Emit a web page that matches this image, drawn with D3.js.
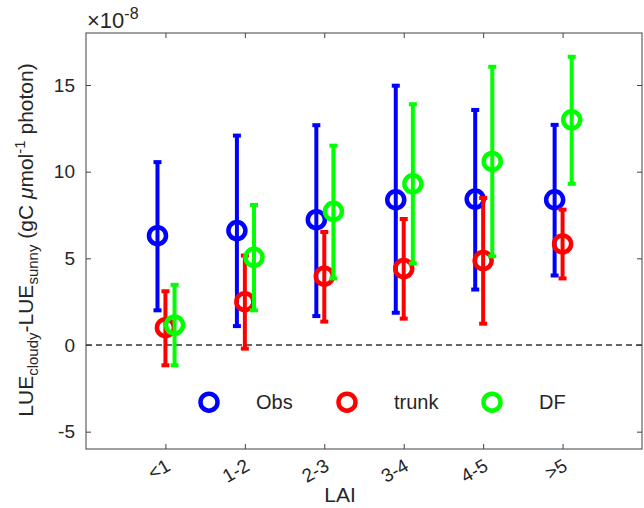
<!DOCTYPE html>
<html>
<head>
<meta charset="utf-8">
<script src="https://cdnjs.cloudflare.com/ajax/libs/d3/7.8.5/d3.min.js"></script>
<style>
body { margin: 0; background: #fff; }
text { font-family: "Liberation Sans", Arial, sans-serif; fill: #262626; }
</style>
</head>
<body>
<div id="chart"></div>
<script>
var categories = ["<1", "1-2", "2-3", "3-4", "4-5", ">5"];
var yTicks = [-5, 0, 5, 10, 15];

// values in units of 1e-8
var obsMean = [6.31, 6.6, 7.23, 8.38, 8.42, 8.38];
var obsLow = [2.0, 1.09, 1.67, 1.86, 3.2, 4.01];
var obsHigh = [10.55, 12.08, 12.68, 14.96, 13.56, 12.7];

var trunkMean = [1.0, 2.5, 3.97, 4.41, 4.87, 5.83];
var trunkLow = [-1.17, -0.21, 1.35, 1.52, 1.23, 3.84];
var trunkHigh = [3.1, 5.16, 6.52, 7.27, 8.48, 7.81];

var dfMean = [1.15, 5.06, 7.71, 9.3, 10.59, 12.99];
var dfLow = [-1.17, 2.0, 3.84, 4.7, 5.12, 9.3];
var dfHigh = [3.47, 8.08, 11.5, 13.89, 16.05, 16.63];

var seriesNames = ["Obs", "trunk", "DF"];
var seriesColors = ["#0000ff", "#ff0000", "#00ff00"];
var seriesOffset = [-0.1, 0, 0.115];

drawChart("chart");

function drawChart(container){
	var W = 644, H = 508;
	var margin = { top: 33, right: 2, bottom: 59, left: 86 },
		width = W - margin.left - margin.right,
		height = H - margin.top - margin.bottom;

	var svg = d3.select("#" + container).append("svg")
		.attr("width", W)
		.attr("height", H);
	var g = svg.append("g").attr("transform", "translate(" + margin.left + "," + margin.top + ")");

	var x = d3.scaleLinear().domain([0, 7]).range([0, width]);
	var y = d3.scaleLinear().domain([-6, 18]).range([height, 0]);
	var xPos = d3.range(1, categories.length + 1);

	// zero line
	g.append("line")
		.attr("x1", 0).attr("x2", width)
		.attr("y1", y(0)).attr("y2", y(0))
		.attr("stroke", "#333").attr("stroke-width", 1.3)
		.attr("stroke-dasharray", "6,4");

	var series = [
		{ mean: obsMean, low: obsLow, high: obsHigh },
		{ mean: trunkMean, low: trunkLow, high: trunkHigh },
		{ mean: dfMean, low: dfLow, high: dfHigh }
	];

	series.forEach(function(s, k){
		var color = seriesColors[k];
		var sg = g.append("g");
		var rows = s.mean.map(function(m, i){ return { x: xPos[i] + seriesOffset[k], m: m, lo: s.low[i], hi: s.high[i] }; });
		sg.selectAll(".bar").data(rows).enter().append("line")
			.attr("x1", function(d){ return x(d.x); })
			.attr("x2", function(d){ return x(d.x); })
			.attr("y1", function(d){ return y(d.lo); })
			.attr("y2", function(d){ return y(d.hi); })
			.attr("stroke", color).attr("stroke-width", 4);
		["lo", "hi"].forEach(function(key){
			sg.selectAll(".cap" + key).data(rows).enter().append("line")
				.attr("x1", function(d){ return x(d.x) - 4; })
				.attr("x2", function(d){ return x(d.x) + 4; })
				.attr("y1", function(d){ return y(d[key]); })
				.attr("y2", function(d){ return y(d[key]); })
				.attr("stroke", color).attr("stroke-width", 4);
		});
		sg.selectAll(".pt").data(rows).enter().append("circle")
			.attr("cx", function(d){ return x(d.x); })
			.attr("cy", function(d){ return y(d.m); })
			.attr("r", 8.5)
			.attr("fill", "none")
			.attr("stroke", color).attr("stroke-width", 4.5);
	});

	// legend
	var legendX = [123, 261, 406];
	var legend = g.selectAll(".legend").data(seriesNames).enter().append("g")
		.attr("transform", function(d, i){ return "translate(" + legendX[i] + "," + (y(-3.3)) + ")"; });
	legend.append("circle").attr("r", 8.5).attr("fill", "none")
		.attr("stroke", function(d, i){ return seriesColors[i]; }).attr("stroke-width", 4.5);
	legend.append("text").attr("x", 47).attr("dy", "0.36em")
		.style("font-size", "20px").text(function(d){ return d; });

	// axes box
	var axisColor = "#404040";
	g.append("rect").attr("width", width).attr("height", height)
		.attr("fill", "none").attr("stroke", axisColor).attr("stroke-width", 1);

	var xAxis = g.append("g").attr("transform", "translate(0," + height + ")")
		.call(d3.axisBottom(x).tickValues(xPos).tickSizeInner(-5).tickSizeOuter(0).tickFormat(function(d){ return categories[d - 1]; }));
	xAxis.select(".domain").remove();
	xAxis.selectAll("line").attr("stroke", axisColor);
	xAxis.selectAll("text")
		.style("font-size", "19px")
		.attr("text-anchor", "end")
		.attr("transform", "translate(-1,9) rotate(-30)")
		.attr("dy", "0.7em").attr("y", 0);

	var xTop = g.append("g")
		.call(d3.axisTop(x).tickValues(xPos).tickSizeInner(-5).tickSizeOuter(0).tickFormat(""));
	xTop.select(".domain").remove();
	xTop.selectAll("line").attr("stroke", axisColor);

	var yAxis = g.append("g")
		.call(d3.axisLeft(y).tickValues(yTicks).tickSizeInner(-5).tickSizeOuter(0).tickPadding(11)
			.tickFormat(function(d){ return String(d); }));
	yAxis.select(".domain").remove();
	yAxis.selectAll("line").attr("stroke", axisColor);
	yAxis.selectAll("text").style("font-size", "19px").attr("fill", "#262626");

	var yRight = g.append("g").attr("transform", "translate(" + width + ",0)")
		.call(d3.axisRight(y).tickValues(yTicks).tickSizeInner(-5).tickSizeOuter(0).tickFormat(""));
	yRight.select(".domain").remove();
	yRight.selectAll("line").attr("stroke", axisColor);

	// exponent
	var ex = svg.append("text").attr("x", margin.left + 1).attr("y", 28).style("font-size", "22px");
	ex.append("tspan").text("\u00d710");
	ex.append("tspan").attr("dy", -9).style("font-size", "16px").text("-8");

	// x label
	svg.append("text").attr("x", 340).attr("y", 502).attr("text-anchor", "middle")
		.style("font-size", "21px").text("LAI");

	// y label
	var yl = svg.append("text").attr("text-anchor", "middle")
		.attr("transform", "translate(33,240) rotate(-90)")
		.style("font-size", "21px");
	yl.append("tspan").text("LUE");
	yl.append("tspan").attr("dy", 5).style("font-size", "15px").text("cloudy");
	yl.append("tspan").attr("dy", -5).text("-LUE");
	yl.append("tspan").attr("dy", 5).style("font-size", "15px").text("sunny");
	yl.append("tspan").attr("dy", -5).text(" (gC ");
	yl.append("tspan").style("font-style", "italic").text("\u03bc");
	yl.append("tspan").text("mol");
	yl.append("tspan").attr("dy", -8).style("font-size", "15px").text("-1");
	yl.append("tspan").attr("dy", 8).text(" photon)");
}
</script>
</body>
</html>
